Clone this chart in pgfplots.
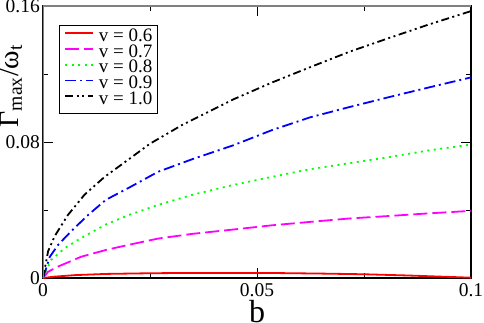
\documentclass[border=0pt]{standalone}
\usepackage{fontspec}
\setmainfont{Liberation Serif}
\usepackage{pgfplots}
\pgfplotsset{compat=1.18}

\definecolor{framegray}{RGB}{128,128,128}
\definecolor{vred}{RGB}{255,0,0}
\definecolor{vmag}{RGB}{255,0,255}
\definecolor{vgreen}{RGB}{0,255,0}
\definecolor{vblue}{RGB}{0,0,255}

\begin{document}
\begin{tikzpicture}
\begin{axis}[
    scale only axis,
    width=428pt, height=272pt,
    xmin=0, xmax=0.1,
    ymin=0, ymax=0.16,
    xtick={0,0.05,0.1}, xticklabels={0,0.05,0.1},
    ytick={0,0.08,0.16}, yticklabels={0,0.08,0.16},
    minor xtick={0.025,0.075},
    minor ytick={0.04,0.12},
    scaled ticks=false,
    tick align=inside,
    major tick length=10pt, minor tick length=5pt,
    every tick/.style={black, line width=0.8pt},
    axis line style={line width=1.2pt},
    tick label style={font=\fontsize{19.5}{20}\selectfont},
    xticklabel style={inner sep=0pt, yshift=-5pt},
    yticklabel style={inner sep=0pt, xshift=-3pt},
    xlabel={b},
    xlabel style={font=\fontsize{32}{32}\selectfont, at={(axis description cs:0.5,0)}, anchor=base, yshift=-44pt},
    ylabel={Γ\textsubscript{max}/ω\textsubscript{t}},
    ylabel style={font=\fontsize{28}{28}\selectfont, at={(axis description cs:-0.058,0.706)}, anchor=base, rotate=0},
    legend style={at={(axis description cs:0.037,0.93)}, anchor=north west,
        draw=black, line width=0.6pt, fill=white,
        font=\fontsize{19}{19}\selectfont, inner sep=5pt, row sep=0.7pt, column sep=5pt,
        nodes={inner sep=0pt, text height=11pt, text depth=4pt}},
    legend cell align=left,
    legend image code/.code={\draw[#1] (0pt,4.5pt) -- (28pt,4.5pt);},
    every axis plot/.append style={line width=1.8pt},
]
\addplot[vred, solid] coordinates {
(0,0) (0.0027,0.0008) (0.0075,0.0017) (0.0147,0.0024) (0.025,0.0028)
(0.035,0.0030) (0.045,0.0030) (0.055,0.0029) (0.065,0.0026) (0.075,0.0022)
(0.085,0.0015) (0.1,0.0002)};
\addlegendentry{v = 0.6}
\addplot[vmag, dash pattern=on 14pt off 5pt] coordinates {
(0,0) (0.0012,0.0037) (0.0035,0.0067) (0.0089,0.0125) (0.0147,0.0165)
(0.02,0.0195) (0.0269,0.0232) (0.035,0.026) (0.0444,0.0285) (0.0535,0.031)
(0.0624,0.033) (0.0715,0.035) (0.081,0.0365) (0.09,0.038) (0.1,0.0395)};
\addlegendentry{v = 0.7}
\addplot[vgreen, dash pattern=on 2pt off 4.5pt] coordinates {
(0,0) (0.0019,0.0106) (0.0051,0.0176) (0.0089,0.0235) (0.0147,0.0315)
(0.02,0.037) (0.0269,0.043) (0.035,0.049) (0.0444,0.0547) (0.0535,0.0595)
(0.0624,0.064) (0.0715,0.0675) (0.081,0.0712) (0.09,0.075) (0.1,0.0785)};
\addlegendentry{v = 0.8}
\addplot[vblue, dash pattern=on 11pt off 4pt on 2pt off 4pt] coordinates {
(0,0) (0.0016,0.0125) (0.0035,0.0194) (0.0065,0.0273) (0.0105,0.037)
(0.0147,0.046) (0.02,0.053) (0.0269,0.0625) (0.035,0.07) (0.0444,0.078)
(0.0535,0.087) (0.0624,0.0945) (0.0715,0.1005) (0.081,0.1065) (0.09,0.112)
(0.1,0.118)};
\addlegendentry{v = 0.9}
\addplot[black, dash pattern=on 8pt off 3.5pt on 2pt off 3.5pt on 2pt off 3.5pt] coordinates {
(0,0) (0.0012,0.0158) (0.0027,0.0245) (0.0058,0.037) (0.0097,0.049)
(0.0144,0.0595) (0.0185,0.067) (0.025,0.079) (0.0325,0.09) (0.0444,0.105)
(0.0535,0.115) (0.0624,0.124) (0.0715,0.133) (0.081,0.1413) (0.09,0.149)
(0.1,0.157)};
\addlegendentry{v = 1.0}
\draw[framegray, line width=1.5pt] (rel axis cs:0,0) -- (rel axis cs:0,1) -- (rel axis cs:1,1);
\end{axis}
\pgfresetboundingbox
\path[use as bounding box] ([xshift=-43pt,yshift=-44pt]current axis.south west)
    rectangle ([xshift=13pt,yshift=6pt]current axis.north east);
\end{tikzpicture}
\end{document}
